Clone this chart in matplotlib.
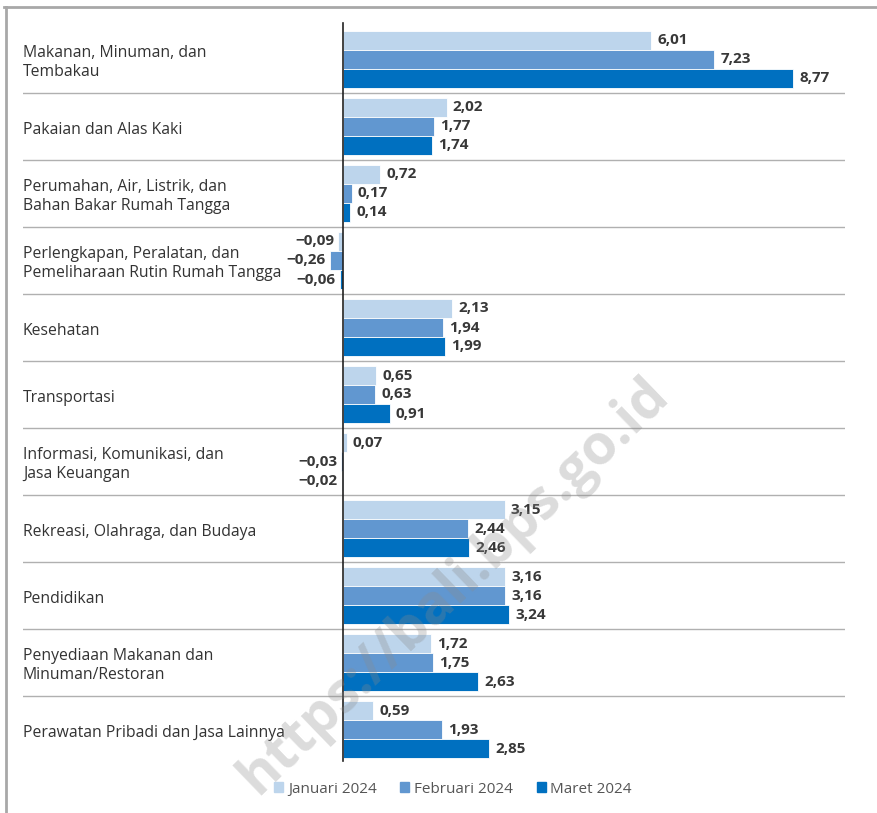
import matplotlib
matplotlib.use("Agg")
import matplotlib.pyplot as plt
from matplotlib.lines import Line2D
from matplotlib.patches import Rectangle

categories = [
    "Makanan, Minuman, dan\nTembakau",
    "Pakaian dan Alas Kaki",
    "Perumahan, Air, Listrik, dan\nBahan Bakar Rumah Tangga",
    "Perlengkapan, Peralatan, dan\nPemeliharaan Rutin Rumah Tangga",
    "Kesehatan",
    "Transportasi",
    "Informasi, Komunikasi, dan\nJasa Keuangan",
    "Rekreasi, Olahraga, dan Budaya",
    "Pendidikan",
    "Penyediaan Makanan dan\nMinuman/Restoran",
    "Perawatan Pribadi dan Jasa Lainnya",
]
series_names = ["Januari 2024", "Februari 2024", "Maret 2024"]
jan = [6.01, 2.02, 0.72, -0.09, 2.13, 0.65, 0.07, 3.15, 3.16, 1.72, 0.59]
feb = [7.23, 1.77, 0.17, -0.26, 1.94, 0.63, -0.03, 2.44, 3.16, 1.75, 1.93]
mar = [8.77, 1.74, 0.14, -0.06, 1.99, 0.91, -0.02, 2.46, 3.24, 2.63, 2.85]
colors = ["#bdd5ec", "#6197d0", "#0070c0"]

W, H = 877, 813
fig = plt.figure(figsize=(W / 100, H / 100), dpi=100)
fig.patch.set_facecolor("white")

ax_l, ax_r, ax_t, ax_b = 23, 845, 26, 763
ax = fig.add_axes([ax_l / W, 1 - ax_b / H, (ax_r - ax_l) / W, (ax_b - ax_t) / H])
scale = 51.3  # px per unit
zero_px = 343
xmin = -(zero_px - ax_l) / scale
xmax = (ax_r - zero_px) / scale
ax.set_xlim(xmin, xmax)
ax.set_ylim(len(categories) - 0.5, -0.5)
ax.axis("off")

bh = 19 / 67
font = "Open Sans"
val_color = "#383838"
for j, vals in enumerate([jan, feb, mar]):
    off = (j - 1) * bh
    ys = [i + off for i in range(len(categories))]
    ax.barh(ys, vals, height=bh, color=colors[j], edgecolor="white", linewidth=0.6, zorder=2)
    for y, v in zip(ys, vals):
        txt = f"{v:.2f}".replace(".", ",").replace("-", "\u2212")
        if v >= 0:
            ax.annotate(txt, (v, y), xytext=(4.5, 0), textcoords="offset points",
                        ha="left", va="center", fontsize=11, fontweight="bold",
                        color=val_color, family=font, zorder=4)
        else:
            ax.annotate(txt, (v, y), xytext=(-3, 0), textcoords="offset points",
                        ha="right", va="center", fontsize=11, fontweight="bold",
                        color=val_color, family=font, zorder=4)

# category labels
for i, c in enumerate(categories):
    ax.annotate(c, (xmin, i), xytext=(0, -2.2), textcoords="offset points",
                ha="left", va="center", fontsize=11.3, color="#333333",
                family=font, linespacing=1.2, zorder=3)

# separators
for i in range(len(categories) - 1):
    ax.axhline(i + 0.5, color="#b0b0b0", linewidth=1.0, zorder=1)

# zero line
ax.plot([0, 0], [-0.55, len(categories) - 0.53], color="#222222", linewidth=1.2, zorder=5,
        clip_on=False)

# frame
fig.add_artist(Line2D([4 / W, 1], [1 - 7 / H, 1 - 7 / H], color="#a8a8a8", linewidth=2))
fig.add_artist(Line2D([6 / W, 6 / W], [0, 1 - 7 / H], color="#a8a8a8", linewidth=2))

# legend
handles = [Rectangle((0, 0), 1, 1, color=c) for c in colors]
leg = fig.legend(handles, series_names, loc="center", bbox_to_anchor=(453 / W, 1 - 789 / H),
                 ncol=3, frameon=False, handlelength=0.6, handleheight=0.6,
                 handletextpad=0.3, columnspacing=1.55,
                 prop={"family": font, "size": 11})
for t in leg.get_texts():
    t.set_color("#555555")

# watermark
fig.text(454 / W, 1 - 586 / H, "https://bali.bps.go.id", rotation=44, ha="center", va="center",
         fontsize=40, fontweight="bold", color="#8a8a8a", alpha=0.3, family=font, zorder=10)

fig.savefig("out.png", dpi=100, facecolor="white")
